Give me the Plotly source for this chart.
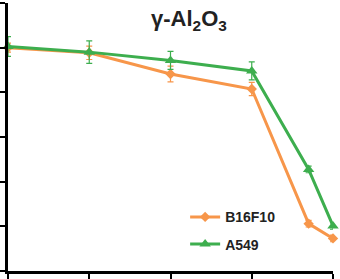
import plotly.graph_objects as go

x_pos = [0, 1, 2, 3, 3.7, 4]
b16_vals = [100, 97.7, 88.2, 81.5, 21.2, 14.6]
b16_err = [2, 3, 3.5, 3, 1.5, 1.5]
a549_vals = [100.5, 98, 94.3, 89.6, 45.5, 20.2]
a549_err = [4.4, 5, 4, 4, 1.5, 1.5]
x_ticks = [0, 1, 2, 3, 4]
y_ticks = [0, 20, 40, 60, 80, 100, 120]

orange = "#F7964A"
green = "#3DAE4E"

fig = go.Figure()
fig.add_trace(go.Scatter(
    x=x_pos, y=b16_vals, name="<b>B16F10</b>", mode="lines+markers",
    legendgroup="b16",
    line=dict(color=orange, width=3),
    marker=dict(symbol="diamond", size=8, color=orange),
    error_y=dict(type="data", array=b16_err, color=orange, thickness=1.2, width=3),
    cliponaxis=False,
))
fig.add_trace(go.Scatter(
    x=x_pos, y=a549_vals, name="<b>A549</b>", mode="lines+markers",
    legendgroup="a549",
    line=dict(color=green, width=3),
    marker=dict(symbol="triangle-up", size=10, color=green),
    error_y=dict(type="data", array=a549_err, color=green, thickness=1.2, width=3),
    cliponaxis=False,
))

fig.update_layout(
    width=340, height=279,
    margin=dict(l=6, r=7, t=3, b=6),
    paper_bgcolor="white", plot_bgcolor="white",
    showlegend=True,
    legend=dict(x=0.545, y=0.26, xanchor="left", yanchor="top",
                font=dict(family="Arial, Liberation Sans", size=14, color="#222"),
                bgcolor="rgba(0,0,0,0)", tracegroupgap=6, itemwidth=30),
    font=dict(family="Arial, Liberation Sans"),
)
fig.update_xaxes(range=[0, 4], tickvals=x_ticks, showticklabels=False,
                 ticks="outside", ticklen=5, tickwidth=2, tickcolor="black",
                 showline=True, linecolor="black", linewidth=3, showgrid=False, zeroline=False)
fig.update_yaxes(range=[0, 120], tickvals=y_ticks, showticklabels=False,
                 ticks="outside", ticklen=5, tickwidth=2, tickcolor="black",
                 showline=True, linecolor="black", linewidth=3, showgrid=False, zeroline=False)

fig.add_annotation(
    text="<b>γ-Al<sub>2</sub>O<sub>3</sub></b>", xref="paper", yref="paper",
    x=(188 - 6) / 327, y=1 - (20 - 3) / 270, xanchor="center", yanchor="middle",
    showarrow=False, font=dict(family="Arial, Liberation Sans", size=22, color="#222"),
)

fig.write_html("out.html", config={"displayModeBar": False},
               post_script="document.body.style.margin='0';")
